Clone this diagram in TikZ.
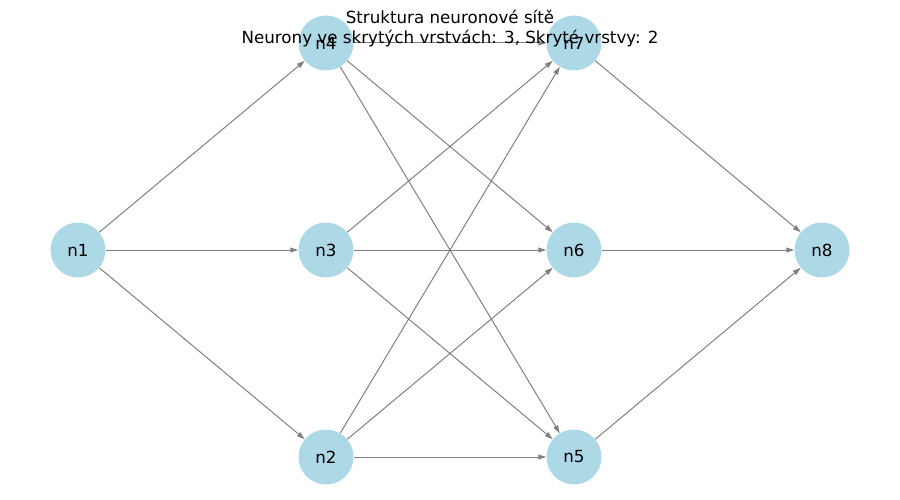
\documentclass[tikz,border=0pt]{standalone}
\usepackage{fontspec}
\setmainfont{DejaVu Sans}
\usetikzlibrary{arrows.meta}
\begin{document}
\begin{tikzpicture}[x=1pt,y=-1pt,
  neuron/.style={circle,fill={rgb,255:red,173;green,216;blue,230},minimum size=55pt,inner sep=0pt,font=\fontsize{16.7}{20}\selectfont},
  conn/.style={draw={rgb,255:red,128;green,128;blue,128},line width=1pt,-{Triangle[length=8pt,width=5pt]}},
  titletext/.style={font=\fontsize{16.7}{22}\selectfont,align=center}]
\useasboundingbox (0,0) rectangle (900,500);
\node[neuron] (n1) at (78,250) {n1};
\node[neuron] (n4) at (326,43) {n4};
\node[neuron] (n3) at (326,250) {n3};
\node[neuron] (n2) at (326,457) {n2};
\node[neuron] (n7) at (574,43) {n7};
\node[neuron] (n6) at (574,250) {n6};
\node[neuron] (n5) at (574,457) {n5};
\node[neuron] (n8) at (822,250) {n8};
\foreach \a/\b in {n1/n4,n1/n3,n1/n2,n4/n7,n4/n6,n4/n5,n3/n7,n3/n6,n3/n5,n2/n7,n2/n6,n2/n5,n7/n8,n6/n8,n5/n8}
  \draw[conn] (\a) -- (\b);
\node[titletext] (t1) at (450,17) {Struktura neuronové sítě};
\node[titletext] (t2) at (450,39) {Neurony ve skrytých vrstvách: 3, Skryté vrstvy: 2};
\end{tikzpicture}
\end{document}
